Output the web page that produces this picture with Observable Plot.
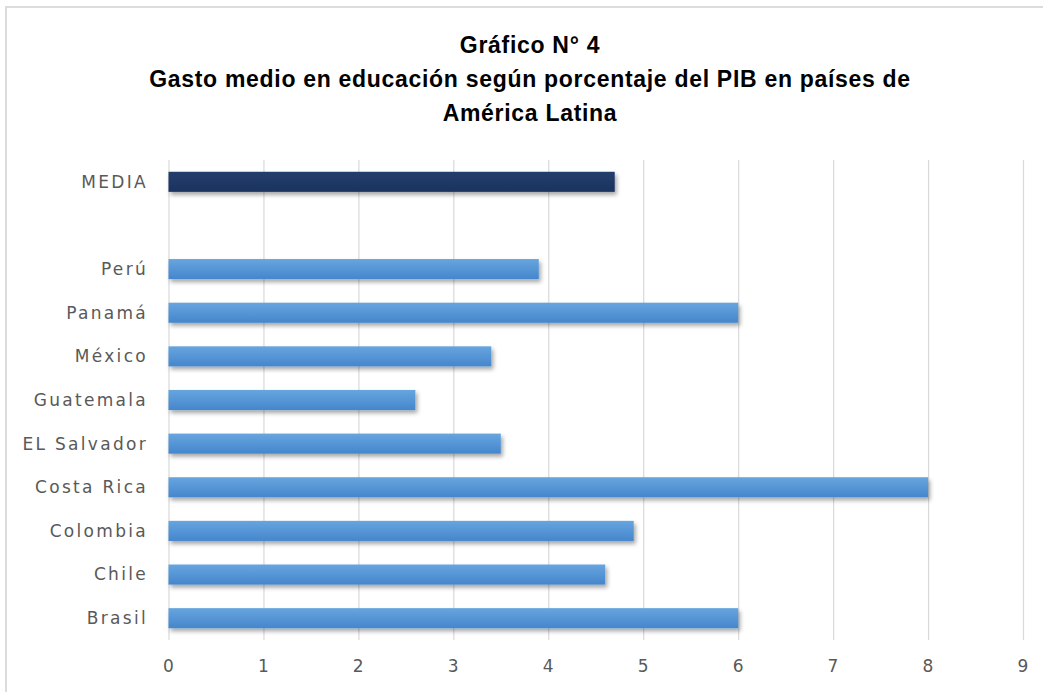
<!DOCTYPE html>
<html>
<head>
<meta charset="utf-8">
<script src="https://cdn.jsdelivr.net/npm/d3@7"></script>
<script src="https://cdn.jsdelivr.net/npm/@observablehq/plot@0.6"></script>
<style>
  html, body { margin: 0; padding: 0; background: #fff; }
  #page { position: relative; width: 1043px; height: 692px; overflow: hidden; background: #fff; }
  #frame { position: absolute; left: 5px; top: 6px; width: 1100px; height: 800px;
           border-left: 2px solid #dcdcdc; border-top: 2px solid #dcdcdc; }
  #title { position: absolute; left: 0; width: 1060px; top: 28px; text-align: center;
           font-family: "Liberation Sans", Arial, sans-serif; font-weight: bold; font-size: 23px;
           letter-spacing: 0.7px; line-height: 34px; color: #000; }
  #chart { position: absolute; left: 0; top: 140px; }
</style>
</head>
<body>
<div id="page">
  <div id="frame"></div>
  <div id="title">Gráfico N° 4<br>Gasto medio en educación según porcentaje del PIB en países de<br>América Latina</div>
  <div id="chart"></div>
</div>
<script>
// Data
const countries = ["Brasil", "Chile", "Colombia", "Costa Rica", "EL Salvador", "Guatemala", "México", "Panamá", "Perú"];
const values = [6.0, 4.6, 4.9, 8.0, 3.5, 2.6, 3.4, 6.0, 3.9];
const mediaLabel = "MEDIA";
const mediaValue = 4.7;
const xTicks = [0, 1, 2, 3, 4, 5, 6, 7, 8, 9];
const categoryOrder = [mediaLabel, " ", ...countries.slice().reverse()];

const countryRows = countries.map((name, i) => ({name, value: values[i]}));
const mediaRows = [{name: mediaLabel, value: mediaValue}];

const plot = Plot.plot({
  width: 1043,
  height: 552,
  marginLeft: 168.5,
  marginRight: 20,
  marginTop: 20,
  marginBottom: 52,
  style: {fontFamily: "'DejaVu Sans', sans-serif", fontSize: "16px", color: "#595959", background: "transparent"},
  x: {domain: [0, 9], ticks: xTicks, label: null},
  y: {domain: categoryOrder, paddingInner: 0.54, paddingOuter: 0.27, round: false, label: null},
  marks: [
    Plot.ruleX(xTicks, {stroke: "#d9d9d9", strokeWidth: 1.2}),
    Plot.barX(countryRows, {x: "value", y: "name", fill: "url(#gradLight)"}),
    Plot.barX(mediaRows, {x: "value", y: "name", fill: "url(#gradDark)"}),
    Plot.axisX({ticks: xTicks, tickSize: 0, tickPadding: 19, tickFormat: d => String(d), fontSize: 17}),
    Plot.axisY({tickSize: 0, tickPadding: 21, fontSize: 17})
  ]
});

const svg = d3.select(plot);
const defs = svg.insert("defs", ":first-child");
const g1 = defs.append("linearGradient").attr("id", "gradLight").attr("x1", 0).attr("y1", 0).attr("x2", 0).attr("y2", 1);
g1.append("stop").attr("offset", "0%").attr("stop-color", "#67a5df");
g1.append("stop").attr("offset", "100%").attr("stop-color", "#4586cc");
const g2 = defs.append("linearGradient").attr("id", "gradDark").attr("x1", 0).attr("y1", 0).attr("x2", 0).attr("y2", 1);
g2.append("stop").attr("offset", "0%").attr("stop-color", "#233d6c");
g2.append("stop").attr("offset", "100%").attr("stop-color", "#1c335f");
const f = defs.append("filter").attr("id", "shadow").attr("x", "-5%").attr("y", "-30%").attr("width", "115%").attr("height", "180%");
f.append("feDropShadow").attr("dx", 2).attr("dy", 3).attr("stdDeviation", 2).attr("flood-color", "#000").attr("flood-opacity", 0.35);
svg.selectAll("g[aria-label='bar']").attr("filter", "url(#shadow)");
svg.selectAll("g[aria-label='x-axis tick label'] text")
  .style("letter-spacing", "1.2px");
svg.selectAll("g[aria-label='y-axis tick label'] text")
  .style("letter-spacing", "2.3px");
svg.selectAll("g[aria-label='y-axis tick label']").attr("fill", "#595959");
svg.selectAll("g[aria-label='x-axis tick label']").attr("fill", "#595959");

document.getElementById("chart").appendChild(plot);
</script>
</body>
</html>
